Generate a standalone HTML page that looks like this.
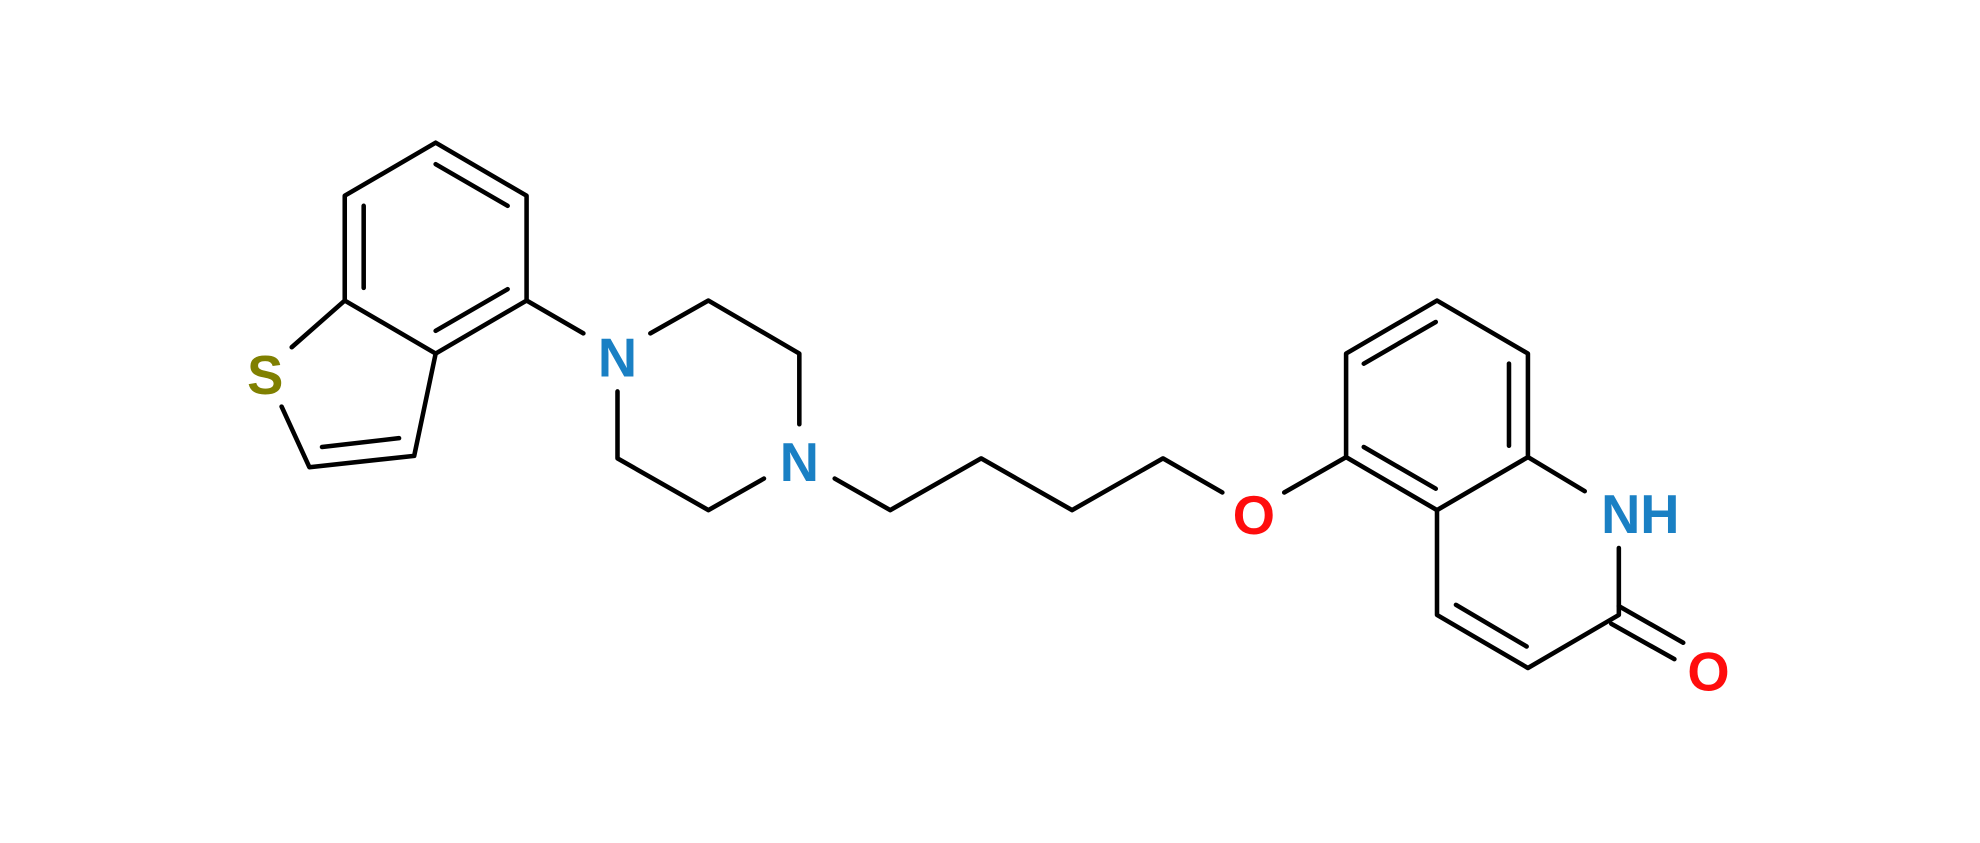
<!DOCTYPE html>
<html><head><meta charset="utf-8"><style>html,body{margin:0;padding:0;background:#fff}svg{display:block}</style></head>
<body>
<svg width="1980" height="843" viewBox="0 0 1568 667.6" xmlns="http://www.w3.org/2000/svg">
<g stroke="#000" stroke-width="3.6" fill="none" stroke-linecap="round" stroke-linejoin="round">
<polyline points="345,113 417,155 417,238 345,280 273,238 273,155 345,113"/>
<line x1="345" y1="130" x2="402" y2="163"/>
<line x1="288" y1="163" x2="288" y2="228"/>
<line x1="345" y1="262" x2="402" y2="229"/>
<line x1="273" y1="238" x2="231" y2="275"/>
<polyline points="223,322 245,370 328,361 345,280"/>
<line x1="255" y1="354" x2="316" y2="347"/>
<line x1="417" y1="238" x2="462" y2="264"/>
<polyline points="515,264 561,238 633,280 633,336"/>
<polyline points="605,379 561,404 489,363 489,310"/>
<polyline points="661,379 705,404 777,363 849,404 921,363 968,390"/>
<line x1="1017" y1="390" x2="1066" y2="362"/>
<polyline points="1066,362 1066,280 1138,238 1210,280 1210,362 1138,404 1066,362"/>
<line x1="1080" y1="288" x2="1137" y2="255"/>
<line x1="1195" y1="288" x2="1195" y2="353"/>
<line x1="1080" y1="354" x2="1137" y2="387"/>
<line x1="1210" y1="362" x2="1255" y2="389"/>
<polyline points="1282,434 1282,487 1210,529 1138,487 1138,404"/>
<line x1="1153" y1="479" x2="1209" y2="512"/>
<line x1="1282" y1="480" x2="1333" y2="509"/>
<line x1="1276" y1="494" x2="1326" y2="522"/>
</g>
<g font-family="Liberation Sans, sans-serif" font-weight="bold" font-size="43" text-anchor="middle">
<text x="210" y="312" fill="#808000">S</text>
<text x="489" y="298" fill="#1a80c4">N</text>
<text x="633" y="381" fill="#1a80c4">N</text>
<text x="993" y="423" fill="#ff0d0d">O</text>
<text x="1299" y="422" fill="#1a80c4">NH</text>
<text x="1353" y="547" fill="#ff0d0d">O</text>
</g>
</svg>
</body></html>
